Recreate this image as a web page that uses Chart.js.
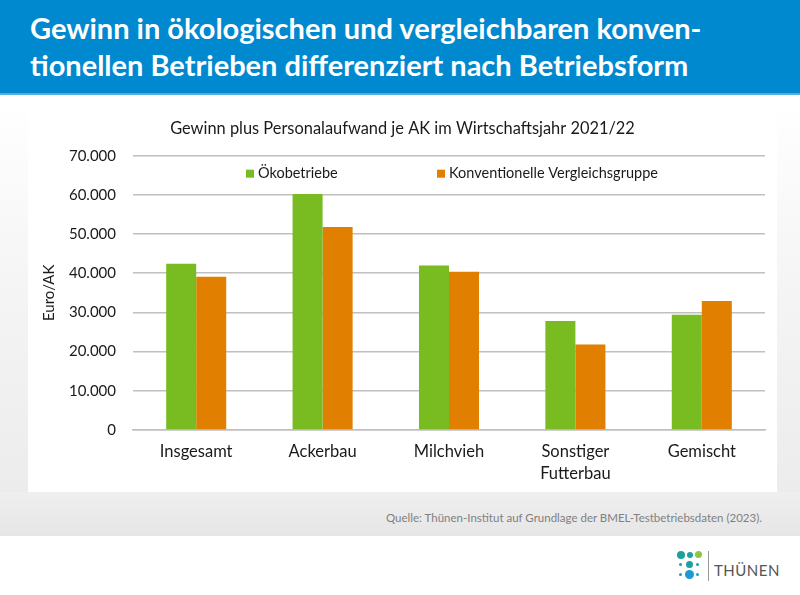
<!DOCTYPE html>
<html>
<head>
<meta charset="utf-8">
<script src="https://cdn.jsdelivr.net/npm/chart.js@4.4.0/dist/chart.umd.min.js"></script>
<style>
  html, body { margin: 0; padding: 0; }
  body { width: 800px; height: 595px; position: relative; overflow: hidden;
         font-family: Lato, "Open Sans", sans-serif;
         background: linear-gradient(#ffffff 100px, #f4f4f4 300px, #ececec 492px, #ffffff 536px); }
  #header { position: absolute; left: 0; top: 0; width: 800px; height: 95px; background: #0089cf;
            border-bottom: 2px solid #52b0e0; box-sizing: border-box; }
  #header h1 { margin: 0; position: absolute; left: 30px; top: 9px; color: #fff; font-weight: 700;
               font-size: 29px; line-height: 37px; }
  #panel { position: absolute; left: 28px; top: 100px; width: 749px; height: 392px; background: #fff; }
  #band { position: absolute; left: 0; top: 492px; width: 800px; height: 44px;
          background: linear-gradient(#efefef, #e6e6e6); }
  #source { position: absolute; right: 38px; top: 511px; color: #808080; font-size: 11.5px; }
  #footer { position: absolute; left: 0; top: 536px; width: 800px; height: 59px; background: #fff; }
  .dot { position: absolute; border-radius: 50%; }
  #logoline { position: absolute; left: 708px; top: 551px; width: 1px; height: 30px; background: #999; }
  #logotext { position: absolute; left: 714px; top: 561px; font-size: 15px; color: #555; letter-spacing: 0.5px; }
</style>
</head>
<body>
<div id="header"><h1>Gewinn in ökologischen und vergleichbaren konven-<br>tionellen Betrieben differenziert nach Betriebsform</h1></div>
<div id="panel"><canvas id="gewinnChart" width="749" height="392"></canvas></div>
<div id="band"></div>
<div id="source">Quelle: Thünen-Institut auf Grundlage der BMEL-Testbetriebsdaten (2023).</div>
<div id="footer"></div>
<div class="dot" style="left:677px;top:551px;width:8px;height:8px;background:#1aa39a"></div>
<div class="dot" style="left:687px;top:552px;width:6px;height:6px;background:#1aa39a"></div>
<div class="dot" style="left:695px;top:551px;width:7px;height:7px;background:#8dc63f"></div>
<div class="dot" style="left:679px;top:563px;width:3px;height:3px;background:#1aa39a"></div>
<div class="dot" style="left:686px;top:561px;width:7px;height:7px;background:#1aa39a"></div>
<div class="dot" style="left:696px;top:563px;width:3px;height:3px;background:#1aa39a"></div>
<div class="dot" style="left:679px;top:573px;width:3px;height:3px;background:#1a9ad6"></div>
<div class="dot" style="left:685px;top:570px;width:9px;height:9px;background:#1a9ad6"></div>
<div class="dot" style="left:696px;top:573px;width:3px;height:3px;background:#1a9ad6"></div>
<div id="logoline"></div>
<div id="logotext">THÜNEN</div>
<script>
var categories = ["Insgesamt", "Ackerbau", "Milchvieh", ["Sonstiger", "Futterbau"], "Gemischt"];
var oekoValues = [42400, 60200, 42000, 27800, 29400];
var konvValues = [39100, 51800, 40400, 21800, 32900];
var seriesNames = ["Ökobetriebe", "Konventionelle Vergleichsgruppe"];
var yTicks = [0, 10000, 20000, 30000, 40000, 50000, 60000, 70000];

var green = "#78bc21";
var orange = "#e07f00";
var gridColor = "#c0c0c0";
var textColor = "#1a1a1a";

function formatDe(v){
    return String(v).replace(/\B(?=(\d{3})+(?!\d))/g, ".");
}

// legend sits inside the plot area, like in the original
var innerLegend = {
    id: "innerLegend",
    afterDraw: function(chart){
        var ctx = chart.ctx;
        var y = chart.chartArea.top + 18;
        var xs = [218, 409];
        ctx.save();
        ctx.font = "14.5px Lato, 'Open Sans', sans-serif";
        ctx.textBaseline = "middle";
        chart.data.datasets.forEach(function(ds, i){
            ctx.fillStyle = ds.backgroundColor;
            ctx.fillRect(xs[i], y - 4, 8, 8);
            ctx.fillStyle = textColor;
            ctx.fillText(ds.label, xs[i] + 12, y);
        });
        ctx.restore();
    }
};

var canvas = document.getElementById("gewinnChart");
var myBarChart = new Chart(canvas, {
    type: "bar",
    data: {
        labels: categories,
        datasets: [{
            label: seriesNames[0],
            data: oekoValues,
            backgroundColor: green,
            categoryPercentage: 0.475,
            barPercentage: 1.0
        }, {
            label: seriesNames[1],
            data: konvValues,
            backgroundColor: orange,
            categoryPercentage: 0.475,
            barPercentage: 1.0
        }]
    },
    options: {
        responsive: false,
        animation: false,
        layout: { padding: { left: 12, right: 12, top: 0, bottom: 0 } },
        plugins: {
            legend: { display: false },
            tooltip: { enabled: false },
            title: {
                display: true,
                text: "Gewinn plus Personalaufwand je AK im Wirtschaftsjahr 2021/22",
                color: textColor,
                font: { family: "Lato, 'Open Sans', sans-serif", size: 16.4, weight: "normal" },
                padding: { top: 19, bottom: 17 }
            }
        },
        scales: {
            x: {
                grid: { display: false, drawTicks: false },
                border: { color: gridColor, width: 1.5 },
                ticks: {
                    color: textColor,
                    font: { family: "Lato, 'Open Sans', sans-serif", size: 16.5, lineHeight: 1.33 },
                    padding: 11,
                    maxRotation: 0
                },
                afterFit: function(scale){ scale.height = 62; }
            },
            y: {
                min: 0,
                max: 70000,
                afterBuildTicks: function(scale){
                    scale.ticks = yTicks.map(function(v){ return { value: v }; });
                },
                grid: { color: gridColor, lineWidth: 1.5, drawTicks: false },
                border: { display: false },
                ticks: {
                    color: textColor,
                    font: { family: "Lato, 'Open Sans', sans-serif", size: 15 },
                    padding: 17,
                    callback: function(v){ return formatDe(v); }
                },
                title: {
                    display: true,
                    text: "Euro/AK",
                    color: textColor,
                    font: { family: "Lato, 'Open Sans', sans-serif", size: 15 },
                    padding: { top: 0, bottom: 0 }
                },
                afterFit: function(scale){ scale.width = 93; }
            }
        }
    },
    plugins: [innerLegend]
});
</script>
</body>
</html>
